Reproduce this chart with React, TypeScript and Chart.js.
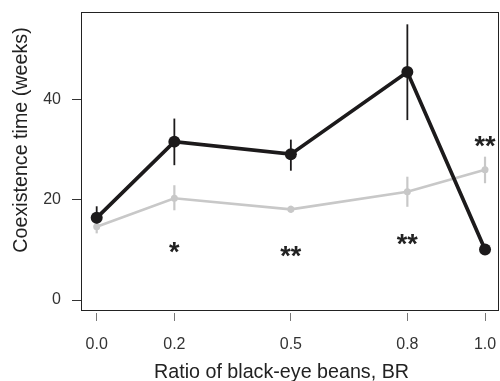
import React, { useEffect, useRef } from "react";
import { Chart, registerables } from "chart.js";

Chart.register(...registerables);

// ---- data ----
const ratios = [0.0, 0.2, 0.5, 0.8, 1.0];
const ratioLabels = ["0.0", "0.2", "0.5", "0.8", "1.0"];
const yTickValues = [0, 20, 40];

const blackMean = [16.4, 31.6, 29.1, 45.5, 10.1];
const blackHigh = [18.7, 36.2, 32.0, 55.0, 10.5];
const blackLow = [14.2, 26.9, 25.8, 35.9, 9.7];

const grayMean = [14.6, 20.3, 18.1, 21.6, 26.0];
const grayHigh = [15.6, 22.9, 18.8, 24.6, 28.6];
const grayLow = [13.3, 17.9, 17.4, 18.6, 23.3];

const starX = [0.2, 0.5, 0.8, 1.0];
const starY = [10.4, 9.6, 12.0, 31.6];
const starText = ["*", "**", "**", "**"];

const xTitle = "Ratio of black-eye beans, BR";
const yTitle = "Coexistence time (weeks)";

const BLACK = "#1c1a1b";
const GRAY = "#c8c8c8";
const FONT = "'Liberation Sans', Arial, Helvetica, sans-serif";

const overlayPlugin = {
  id: "overlay",
  beforeDatasetsDraw(chart: any) {
    const { ctx, scales } = chart;
    const xs = scales.x;
    const ys = scales.y;
    ctx.save();
    ctx.lineCap = "butt";
    const drawBars = (low: number[], high: number[], color: string, w: number) => {
      ctx.strokeStyle = color;
      ctx.lineWidth = w;
      ratios.forEach((r, i) => {
        const px = xs.getPixelForValue(r);
        ctx.beginPath();
        ctx.moveTo(px, ys.getPixelForValue(low[i]));
        ctx.lineTo(px, ys.getPixelForValue(high[i]));
        ctx.stroke();
      });
    };
    drawBars(grayLow, grayHigh, GRAY, 2.2);
    drawBars(blackLow, blackHigh, BLACK, 1.8);
    ctx.restore();
  },
  afterDraw(chart: any) {
    const { ctx, scales, chartArea: ca } = chart;
    const xs = scales.x;
    const ys = scales.y;
    ctx.save();
    // box
    ctx.strokeStyle = "#222";
    ctx.lineWidth = 1;
    const l = Math.round(ca.left) + 0.5;
    const t = Math.round(ca.top) + 0.5;
    const r = Math.round(ca.right) - 0.5;
    const b = Math.round(ca.bottom) - 0.5;
    ctx.strokeRect(l, t, r - l, b - t);

    // significance stars
    ctx.fillStyle = "#222";
    ctx.font = `bold 27px ${FONT}`;
    ctx.textAlign = "center";
    ctx.textBaseline = "alphabetic";
    starText.forEach((s, i) => {
      const m = ctx.measureText(s);
      const asc = m.actualBoundingBoxAscent;
      const desc = m.actualBoundingBoxDescent;
      const cy = ys.getPixelForValue(starY[i]);
      const base = cy - (desc - asc) / 2;
      ctx.fillText(s, xs.getPixelForValue(starX[i]), base);
    });

    // axis titles
    ctx.fillStyle = "#222";
    ctx.font = `19.7px ${FONT}`;
    ctx.textAlign = "center";
    ctx.textBaseline = "alphabetic";
    ctx.fillText(xTitle, 281.5, 377.5);
    ctx.save();
    ctx.translate(26.5, 140);
    ctx.rotate(-Math.PI / 2);
    ctx.fillText(yTitle, 0, 0);
    ctx.restore();
    ctx.restore();
  },
};

export default function App() {
  const canvasRef = useRef<HTMLCanvasElement | null>(null);

  useEffect(() => {
    const canvas = canvasRef.current;
    if (!canvas) return;
    const chart = new Chart(canvas, {
      type: "line",
      data: {
        datasets: [
          {
            label: "black",
            data: ratios.map((x, i) => ({ x, y: blackMean[i] })),
            borderColor: BLACK,
            backgroundColor: BLACK,
            borderWidth: 3.7,
            pointRadius: 6,
            pointBorderWidth: 0,
            pointBackgroundColor: BLACK,
            tension: 0,
            fill: false,
            clip: false,
          },
          {
            label: "gray",
            data: ratios.map((x, i) => ({ x, y: grayMean[i] })),
            borderColor: GRAY,
            backgroundColor: GRAY,
            borderWidth: 2.7,
            pointRadius: 3.5,
            pointBorderWidth: 0,
            pointBackgroundColor: GRAY,
            tension: 0,
            fill: false,
            clip: false,
          },
        ],
      },
      options: {
        responsive: false,
        animation: false,
        devicePixelRatio: 1,
        layout: { autoPadding: false, padding: { top: 12, right: 1, left: 0, bottom: 0 } },
        plugins: {
          legend: { display: false },
          tooltip: { enabled: false },
          title: { display: false },
        },
        events: [],
        scales: {
          x: {
            type: "linear",
            position: "bottom",
            min: -0.0404,
            max: 1.036,
            border: { display: false },
            grid: {
              display: true,
              drawOnChartArea: false,
              drawTicks: true,
              tickLength: 10,
              tickColor: "#777",
              tickWidth: 1,
              tickBorderDash: [0, 2, 8, 0],
            },
            ticks: {
              autoSkip: false,
              maxRotation: 0,
              padding: 14,
              color: "#333",
              font: { family: FONT, size: 16 },
              callback: (v: any) => {
                const idx = ratios.findIndex((r) => Math.abs(r - Number(v)) < 1e-6);
                return idx >= 0 ? ratioLabels[idx] : "";
              },
            },
            afterBuildTicks: (s: any) => {
              s.ticks = ratios.map((v) => ({ value: v }));
            },
            afterFit: (s: any) => {
              s.height = 70;
              s.paddingLeft = 0;
              s.paddingRight = 0;
              s.paddingTop = 0;
              s.paddingBottom = 0;
            },
          },
          y: {
            type: "linear",
            position: "left",
            min: -2.19,
            max: 57.46,
            border: { display: false },
            grid: {
              display: true,
              drawOnChartArea: false,
              drawTicks: true,
              tickLength: 9,
              tickColor: "#333",
              tickWidth: 1,
            },
            ticks: {
              autoSkip: false,
              padding: 11,
              color: "#333",
              font: { family: FONT, size: 16 },
              callback: (v: any) => String(v),
            },
            afterBuildTicks: (s: any) => {
              s.ticks = yTickValues.map((v) => ({ value: v }));
            },
            afterFit: (s: any) => {
              s.width = 81;
              s.paddingLeft = 0;
              s.paddingRight = 0;
              s.paddingTop = 0;
              s.paddingBottom = 0;
            },
          },
        },
      },
      plugins: [overlayPlugin],
    });
    return () => chart.destroy();
  }, []);

  return (
    <div style={{ position: "absolute", left: 0, top: 0, width: 500, height: 381, background: "#fff" }}>
      <canvas ref={canvasRef} width={500} height={381} style={{ display: "block" }} />
    </div>
  );
}
